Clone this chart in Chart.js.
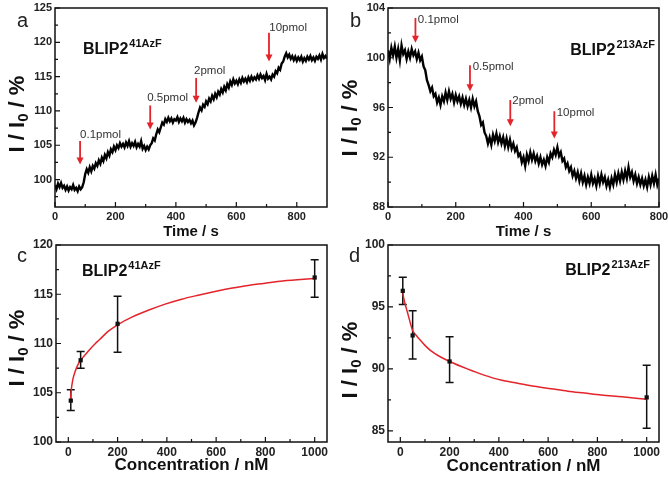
<!DOCTYPE html>
<html>
<head>
<meta charset="utf-8">
<script src="https://cdn.jsdelivr.net/npm/chart.js@4.4.1/dist/chart.umd.min.js"></script>
<style>
  html, body { margin: 0; padding: 0; background: #fff; overflow: hidden; }
  #wrap { position: relative; width: 668px; height: 478px; }
  #wrap canvas { position: absolute; left: 0; top: 0; }
</style>
</head>
<body>
<div id="wrap">
  <canvas id="pa" width="668" height="478"></canvas>
  <canvas id="pb" width="668" height="478"></canvas>
  <canvas id="pc" width="668" height="478"></canvas>
  <canvas id="pd" width="668" height="478"></canvas>
</div>
<script>
// ---- data ----
const traceStep = 5; // s between samples of the time traces

// panel a: BLIP2 41AzF, I/I0 (%) every 5 s from 0 to 900 s
const traceA = [
  99.2, 98.6, 99.4, 98.9, 99.5, 98.8, 99.1, 98.5, 99.0, 98.4, 98.9, 98.6, 99.2, 98.5, 98.8, 98.3, 99.0, 98.6, 98.9, 99.6,
  100.8, 101.5, 101.0, 101.8, 101.2, 102.0, 101.6, 102.4, 102.0, 102.8, 102.3, 103.2, 102.7, 103.6, 103.1, 104.0, 103.5, 104.4, 104.0, 104.8,
  104.3, 105.0, 104.6, 105.3, 104.8, 105.2, 104.7, 105.4, 104.9, 105.6, 104.8, 105.3, 104.9, 105.5, 104.7, 105.2, 104.8, 105.6, 104.5, 104.9,
  104.3, 104.8, 104.4, 105.0, 105.3, 106.0, 105.7, 106.6, 107.3, 106.9, 107.6, 108.3, 108.0, 108.8, 108.4, 109.0, 108.5, 108.9, 108.3, 108.8,
  108.6, 109.1, 108.4, 108.9, 108.5, 109.0, 108.3, 108.8, 108.4, 108.7, 108.2, 108.6, 107.9, 108.3, 109.0, 109.8, 110.5, 110.1, 110.9, 110.6,
  111.4, 111.0, 111.8, 111.4, 112.2, 111.7, 112.5, 112.0, 112.8, 112.4, 113.2, 112.7, 113.5, 113.0, 113.9, 113.4, 114.3, 113.8, 114.6, 114.0,
  114.4, 113.9, 114.6, 114.1, 114.8, 114.3, 114.7, 114.2, 114.9, 114.4, 115.0, 114.5, 114.9, 114.6, 115.2, 114.7, 115.3, 114.8, 115.1, 114.5,
  115.4, 114.7, 115.0, 114.6, 115.3, 115.0, 115.8, 115.5, 116.3, 116.0, 116.9, 117.2, 117.9, 118.4, 117.8, 118.2, 117.6, 118.0, 117.4, 117.9,
  117.3, 117.8, 117.4, 117.9, 117.2, 117.7, 117.3, 117.9, 117.5, 118.0, 117.4, 117.8, 117.3, 117.9, 117.6, 118.1, 117.5, 118.3, 117.7, 118.0,
  117.6
];

// panel b: BLIP2 213AzF, I/I0 (%) every 5 s from 0 to 800 s
const traceB = [
  100.6, 99.9, 100.8, 100.2, 100.9, 100.0, 100.7, 99.8, 101.0, 100.3, 100.6, 99.9, 100.5, 100.0, 100.7, 100.2, 100.5, 99.9, 100.4, 99.8,
  100.1, 99.3, 99.0, 98.2, 97.8, 97.3, 97.6, 96.9, 97.1, 96.4, 96.8, 96.2, 96.9, 96.5, 97.2, 96.6, 97.3, 96.7, 97.1, 96.4,
  97.0, 96.5, 96.9, 96.3, 96.8, 96.2, 96.7, 96.1, 96.6, 96.0, 96.7, 96.1, 96.5, 95.7, 95.3, 94.6, 94.8, 94.0, 93.7, 93.1,
  93.6, 93.0, 93.8, 93.3, 93.9, 93.2, 93.7, 93.1, 93.6, 92.9, 93.5, 92.8, 93.4, 92.7, 93.1, 92.5, 92.8, 92.1, 92.3, 91.6,
  92.0, 91.3, 92.2, 91.7, 92.4, 91.8, 92.3, 91.7, 92.1, 91.5, 92.0, 91.4, 91.8, 91.3, 92.0, 91.6, 92.3, 92.0, 92.6, 92.2,
  92.8, 92.1, 92.4, 91.7, 91.9, 91.2, 91.5, 90.9, 91.2, 90.5, 90.9, 90.3, 90.8, 90.1, 90.7, 90.0, 90.5, 89.8, 90.4, 89.9,
  90.6, 89.9, 90.3, 89.7, 90.5, 89.9, 90.6, 90.0, 90.4, 89.7, 90.2, 89.6, 90.3, 89.8, 90.6, 90.0, 90.7, 90.1, 90.8, 90.2,
  90.9, 90.3, 91.2, 90.4, 90.8, 90.1, 90.6, 89.9, 90.4, 89.8, 90.3, 89.7, 90.2, 89.6, 90.4, 89.8, 90.5, 89.9, 90.6, 89.8,
  90.3
];

// injections marked by arrows
const doseLabels = ["0.1pmol", "0.5pmol", "2pmol", "10pmol"];
const arrowTimeA = [83, 315, 467, 708];
const arrowTopA = [105.6, 110.8, 114.8, 121.4];
const arrowTipA = [102.2, 107.3, 111.2, 117.2];
const labelTimeA = [83, 305, 460, 709];
const labelValA = [106.0, 111.4, 115.4, 121.6];

const arrowTimeB = [81, 242, 361, 491];
const arrowTopB = [103.2, 99.4, 96.6, 95.7];
const arrowTipB = [101.2, 97.3, 94.5, 93.5];
const labelTimeB = [88, 250, 367, 498];
const labelValB = [102.8, 99.0, 96.3, 95.3];

// panels c, d: concentration response
const conc = [10, 50, 200, 1000];
const respC = [104.2, 108.3, 112.0, 116.7];
const errLoC = [103.2, 107.5, 109.1, 114.7];
const errHiC = [105.3, 109.2, 114.8, 118.5];
const fitXC = [8, 12, 18, 27, 40, 53, 70, 87, 110, 127, 160, 200, 260, 327, 393, 460, 527, 600, 660, 730, 793, 870, 1000];
const fitYC = [104.0, 105.3, 106.3, 107.1, 107.9, 108.4, 108.9, 109.4, 110.0, 110.4, 111.2, 111.9, 112.7, 113.4, 114.0, 114.5, 114.9, 115.3, 115.6, 115.9, 116.1, 116.35, 116.6];

const respD = [96.3, 92.7, 90.6, 87.7];
const errLoD = [95.2, 90.8, 88.9, 85.2];
const errHiD = [97.4, 94.7, 92.6, 90.3];
const fitXD = [10, 15, 20, 27, 34, 42, 50, 65, 82, 100, 122, 160, 200, 272, 340, 408, 476, 544, 612, 680, 748, 816, 900, 1000];
const fitYD = [96.1, 95.6, 95.2, 94.7, 94.2, 93.6, 93.1, 92.7, 92.3, 91.9, 91.5, 91.0, 90.6, 90.0, 89.5, 89.1, 88.85, 88.6, 88.4, 88.2, 88.05, 87.9, 87.75, 87.55];

// tick values
const timeTicksA = [0, 200, 400, 600, 800];
const timeMinorA = [100, 300, 500, 700];
const yTicksA = [100, 105, 110, 115, 120, 125];
const yMinorA = [97.5, 102.5, 107.5, 112.5, 117.5, 122.5];
const timeTicksB = [0, 200, 400, 600, 800];
const timeMinorB = [100, 300, 500, 700];
const yTicksB = [88, 92, 96, 100, 104];
const yMinorB = [90, 94, 98, 102];
const concTicks = [0, 200, 400, 600, 800, 1000];
const concMinor = [100, 300, 500, 700, 900];
const yTicksC = [100, 105, 110, 115, 120];
const yMinorC = [102.5, 107.5, 112.5, 117.5];
const yTicksD = [85, 90, 95, 100];
const yMinorD = [87.5, 92.5, 97.5];

const FONT = '"Liberation Sans", Arial, sans-serif';
const RED = "#e3242b";
Chart.defaults.font.family = FONT;

// frame, inward ticks, titles, arrows and error bars
const deco = {
  id: "deco",
  beforeDatasetsDraw(chart, args, o) {
    if (!o.err) return;
    const { ctx, scales: { x, y } } = chart;
    ctx.save();
    ctx.strokeStyle = "#111";
    ctx.lineWidth = 1.5;
    o.err.x.forEach((v, i) => {
      const px = x.getPixelForValue(v);
      const y1 = y.getPixelForValue(o.err.lo[i]);
      const y2 = y.getPixelForValue(o.err.hi[i]);
      ctx.beginPath();
      ctx.moveTo(px, y1); ctx.lineTo(px, y2);
      ctx.moveTo(px - 4, y1); ctx.lineTo(px + 4, y1);
      ctx.moveTo(px - 4, y2); ctx.lineTo(px + 4, y2);
      ctx.stroke();
    });
    ctx.restore();
  },
  afterDraw(chart, args, o) {
    const { ctx, chartArea: a, scales: { x, y } } = chart;
    ctx.save();
    ctx.strokeStyle = "#111";
    ctx.lineWidth = 1.5;
    ctx.strokeRect(a.left, a.top, a.right - a.left, a.bottom - a.top);

    ctx.lineWidth = 1.2;
    ctx.beginPath();
    const xt = (v, len) => { const p = x.getPixelForValue(v); ctx.moveTo(p, a.bottom); ctx.lineTo(p, a.bottom - len); };
    const yt = (v, len) => { const p = y.getPixelForValue(v); ctx.moveTo(a.left, p); ctx.lineTo(a.left + len, p); };
    x.ticks.forEach(t => xt(t.value, 5));
    o.xMinor.forEach(v => xt(v, 3));
    y.ticks.forEach(t => yt(t.value, 5));
    o.yMinor.forEach(v => yt(v, 3));
    ctx.stroke();

    // arrows
    if (o.arrows) {
      const ar = o.arrows;
      ctx.strokeStyle = RED;
      ctx.fillStyle = RED;
      ctx.lineWidth = 1.8;
      ar.t.forEach((t, i) => {
        const px = x.getPixelForValue(t);
        const top = y.getPixelForValue(ar.top[i]);
        const tip = y.getPixelForValue(ar.tip[i]);
        ctx.beginPath(); ctx.moveTo(px, top); ctx.lineTo(px, tip - 6); ctx.stroke();
        ctx.beginPath(); ctx.moveTo(px - 3.5, tip - 7); ctx.lineTo(px + 3.5, tip - 7); ctx.lineTo(px, tip); ctx.closePath(); ctx.fill();
      });
      ctx.fillStyle = "#333";
      ctx.font = "11.5px " + FONT;
      ctx.textAlign = "left";
      ctx.textBaseline = "alphabetic";
      ar.labels.forEach((s, i) => ctx.fillText(s, x.getPixelForValue(ar.lt[i]), y.getPixelForValue(ar.lv[i])));
    }

    // sample tag with superscript
    const tg = o.tag;
    ctx.fillStyle = "#111";
    ctx.textBaseline = "alphabetic";
    ctx.textAlign = "left";
    const mainFont = "bold 16px " + FONT, supFont = "bold 11px " + FONT;
    ctx.font = mainFont; const w1 = ctx.measureText(tg.main).width;
    ctx.font = supFont; const w2 = ctx.measureText(tg.sup).width;
    const x0 = tg.align === "right" ? tg.x - w1 - w2 : tg.x;
    ctx.font = mainFont; ctx.fillText(tg.main, x0, tg.y);
    ctx.font = supFont; ctx.fillText(tg.sup, x0 + w1 + 1, tg.y - 7);

    // panel letter
    ctx.font = "20px " + FONT;
    ctx.fillStyle = "#222";
    ctx.fillText(o.letter.text, o.letter.x, o.letter.y);

    // x title
    ctx.fillStyle = "#111";
    ctx.font = o.xTitle.font;
    ctx.textAlign = "center";
    ctx.textBaseline = "middle";
    ctx.fillText(o.xTitle.text, (a.left + a.right) / 2, o.xTitle.y);

    // y title  I / I0 / %
    ctx.translate(o.yTitle.x, o.yTitle.y);
    ctx.rotate(-Math.PI / 2);
    ctx.textAlign = "left";
    ctx.textBaseline = "alphabetic";
    const big = "bold 22px " + FONT, small = "bold 15px " + FONT;
    ctx.font = big; const p1 = ctx.measureText("I / I").width, p3 = ctx.measureText(" / %").width;
    ctx.font = small; const p2 = ctx.measureText("0").width;
    let u = -(p1 + p2 + p3) / 2;
    ctx.font = big; ctx.fillText("I / I", u, 8); u += p1;
    ctx.font = small; ctx.fillText("0", u, 12); u += p2;
    ctx.font = big; ctx.fillText(" / %", u, 8);
    ctx.restore();
  }
};

function fixedTicks(values) {
  return scale => { scale.ticks = values.map(v => ({ value: v })); };
}

function makePanel(id, p) {
  new Chart(document.getElementById(id), {
    type: "line",
    data: { datasets: p.datasets },
    options: {
      responsive: false,
      animation: false,
      events: [],
      layout: { padding: p.padding },
      plugins: { legend: { display: false }, tooltip: { enabled: false }, deco: p.deco },
      scales: {
        x: {
          type: "linear", min: p.xMin, max: p.xMax,
          grid: { display: false, drawTicks: false }, border: { display: false },
          ticks: { color: "#222", padding: 3, font: { size: p.tickSize, weight: "bold" }, callback: v => String(v) },
          afterBuildTicks: fixedTicks(p.xTicks),
          afterFit: s => { s.height = p.xHeight; s.paddingLeft = 0; s.paddingRight = 0; }
        },
        y: {
          type: "linear", min: p.yMin, max: p.yMax,
          grid: { display: false, drawTicks: false }, border: { display: false },
          ticks: { color: "#222", padding: 3, font: { size: p.tickSize, weight: "bold" }, callback: v => String(v) },
          afterBuildTicks: fixedTicks(p.yTicks),
          afterFit: s => { s.width = p.yWidth; s.paddingTop = 0; s.paddingBottom = 0; }
        }
      }
    },
    plugins: [deco]
  });
}

const traceSet = vals => [{
  data: vals.map((v, i) => ({ x: i * traceStep, y: v })),
  borderColor: "#000", borderWidth: 2.4, pointRadius: 0, tension: 0, borderJoinStyle: "miter"
}];

const doseSets = (resp, fx, fy) => [
  { data: conc.map((c, i) => ({ x: c, y: resp[i] })), showLine: false, pointStyle: "rect",
    pointRadius: 3, pointBackgroundColor: "#111", pointBorderColor: "#111", borderWidth: 0 },
  { data: fx.map((c, i) => ({ x: c, y: fy[i] })), borderColor: RED, borderWidth: 1.5,
    pointRadius: 0, cubicInterpolationMode: "monotone" }
];

makePanel("pa", {
  datasets: traceSet(traceA),
  padding: { left: 0, top: 8, right: 341, bottom: 241 },
  xHeight: 30, yWidth: 55, tickSize: 11,
  xMin: 0, xMax: 900, yMin: 96, yMax: 125,
  xTicks: timeTicksA, yTicks: yTicksA,
  deco: {
    xMinor: timeMinorA, yMinor: yMinorA,
    arrows: { t: arrowTimeA, top: arrowTopA, tip: arrowTipA, labels: doseLabels, lt: labelTimeA, lv: labelValA },
    tag: { main: "BLIP2", sup: "41AzF", x: 83, y: 54, align: "left" },
    letter: { text: "a", x: 17, y: 27 },
    xTitle: { text: "Time / s", font: "bold 15px " + FONT, y: 232 },
    yTitle: { x: 16, y: 114 }
  }
});

makePanel("pb", {
  datasets: traceSet(traceB),
  padding: { left: 334, top: 8, right: 9, bottom: 241 },
  xHeight: 30, yWidth: 54, tickSize: 11,
  xMin: 0, xMax: 800, yMin: 88, yMax: 104,
  xTicks: timeTicksB, yTicks: yTicksB,
  deco: {
    xMinor: timeMinorB, yMinor: yMinorB,
    arrows: { t: arrowTimeB, top: arrowTopB, tip: arrowTipB, labels: doseLabels, lt: labelTimeB, lv: labelValB },
    tag: { main: "BLIP2", sup: "213AzF", x: 654, y: 55, align: "right" },
    letter: { text: "b", x: 350, y: 27 },
    xTitle: { text: "Time / s", font: "bold 15px " + FONT, y: 232 },
    yTitle: { x: 349, y: 118 }
  }
});

makePanel("pc", {
  datasets: doseSets(respC, fitXC, fitYC),
  padding: { left: 0, top: 245, right: 341, bottom: 0 },
  xHeight: 36, yWidth: 56, tickSize: 12,
  xMin: -50, xMax: 1050, yMin: 100, yMax: 120,
  xTicks: concTicks, yTicks: yTicksC,
  deco: {
    xMinor: concMinor, yMinor: yMinorC,
    err: { x: conc, lo: errLoC, hi: errHiC },
    tag: { main: "BLIP2", sup: "41AzF", x: 82, y: 276, align: "left" },
    letter: { text: "c", x: 17, y: 262 },
    xTitle: { text: "Concentration / nM", font: "bold 17px " + FONT, y: 465 },
    yTitle: { x: 16, y: 348 }
  }
});

makePanel("pd", {
  datasets: doseSets(respD, fitXD, fitYD),
  padding: { left: 334, top: 245, right: 9, bottom: 0 },
  xHeight: 36, yWidth: 54, tickSize: 12,
  xMin: -50, xMax: 1050, yMin: 84.1, yMax: 100,
  xTicks: concTicks, yTicks: yTicksD,
  deco: {
    xMinor: concMinor, yMinor: yMinorD,
    err: { x: conc, lo: errLoD, hi: errHiD },
    tag: { main: "BLIP2", sup: "213AzF", x: 649, y: 275, align: "right" },
    letter: { text: "d", x: 349, y: 262 },
    xTitle: { text: "Concentration / nM", font: "bold 17px " + FONT, y: 466 },
    yTitle: { x: 349, y: 360 }
  }
});
</script>
</body>
</html>
